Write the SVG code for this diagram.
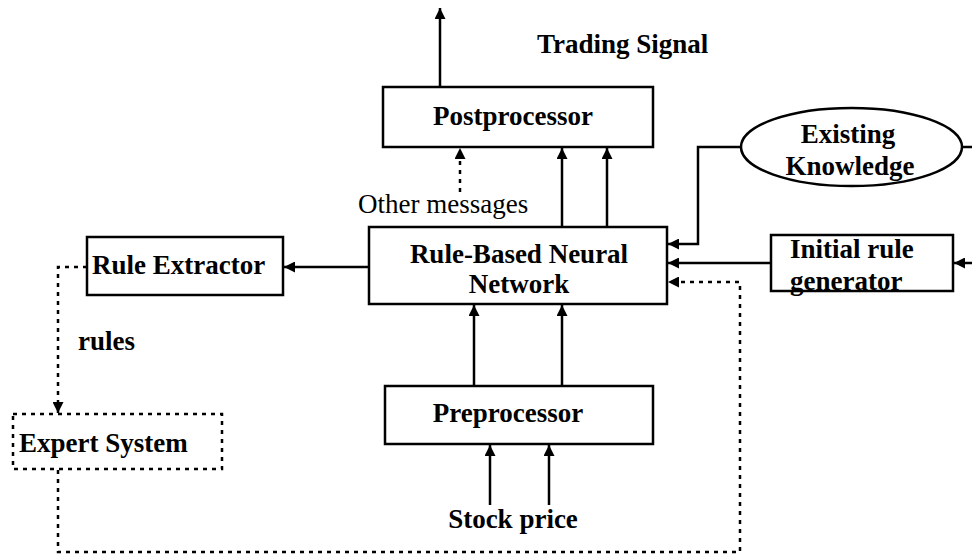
<svg xmlns="http://www.w3.org/2000/svg" width="972" height="556" viewBox="0 0 972 556">
<style>
text{font-family:"Liberation Serif","Times New Roman",serif;font-size:27px;fill:#000}
.b{font-weight:bold}
.box{fill:#fff;stroke:#000;stroke-width:2.5}
.dbox{fill:none;stroke:#000;stroke-width:2.5;stroke-dasharray:4 5}
.ln{fill:none;stroke:#000;stroke-width:2.5}
.dl{fill:none;stroke:#000;stroke-width:2.5;stroke-dasharray:4 5}
</style>
<defs>
<marker id="ah" markerUnits="userSpaceOnUse" markerWidth="11" markerHeight="11" refX="11" refY="5.5" orient="auto" viewBox="0 0 11 11">
<path d="M0,0 L11,5.5 L0,11 z" fill="#000"/>
</marker>
</defs>
<rect width="972" height="556" fill="#fff"/>
<g id="connectors">
<path class="ln" d="M440,87 V8" marker-end="url(#ah)"/>
<path class="dl" d="M460,192 V148" marker-end="url(#ah)"/>
<path class="ln" d="M562,227 V148" marker-end="url(#ah)"/>
<path class="ln" d="M607,227 V148" marker-end="url(#ah)"/>
<path class="ln" d="M474,386 V305" marker-end="url(#ah)"/>
<path class="ln" d="M562,386 V305" marker-end="url(#ah)"/>
<path class="ln" d="M490,505 V445" marker-end="url(#ah)"/>
<path class="ln" d="M549,505 V445" marker-end="url(#ah)"/>
<path class="ln" d="M369,267 H284" marker-end="url(#ah)"/>
<path class="ln" d="M741,147 H698 V244 H668" marker-end="url(#ah)"/>
<path class="ln" d="M962,147 H972"/>
<path class="ln" d="M771,263 H668" marker-end="url(#ah)"/>
<path class="ln" d="M972,263 H954" marker-end="url(#ah)"/>
<path class="dl" d="M87,267 H58 V413" marker-end="url(#ah)"/>
<path class="dl" d="M58,470 V552 H740 V282 H668" marker-end="url(#ah)"/>
</g>
<g id="postprocessor">
<rect class="box" x="383" y="87" width="270" height="60"/>
<text class="b" x="513" y="125" text-anchor="middle">Postprocessor</text>
</g>
<g id="trading-signal">
<text class="b" x="537" y="53">Trading Signal</text>
</g>
<g id="other-messages">
<text x="358" y="213">Other messages</text>
</g>
<g id="rbnn">
<rect class="box" x="369" y="227" width="298" height="77"/>
<text class="b" x="519" y="263" text-anchor="middle">Rule-Based Neural</text>
<text class="b" x="519" y="293" text-anchor="middle">Network</text>
</g>
<g id="existing-knowledge">
<ellipse class="box" cx="851.5" cy="147" rx="110.5" ry="39"/>
<text class="b" x="848" y="143" text-anchor="middle">Existing</text>
<text class="b" x="850" y="175" text-anchor="middle">Knowledge</text>
</g>
<g id="initial-rule-generator">
<rect class="box" x="771" y="235" width="182" height="56"/>
<text class="b" x="790" y="258">Initial rule</text>
<text class="b" x="790" y="290">generator</text>
</g>
<g id="rule-extractor">
<rect class="box" x="87" y="237" width="196" height="58"/>
<text class="b" x="92" y="274">Rule Extractor</text>
</g>
<g id="rules-label">
<text class="b" x="78" y="350">rules</text>
</g>
<g id="expert-system">
<rect class="dbox" x="13" y="414" width="209" height="55"/>
<text class="b" x="19" y="452">Expert System</text>
</g>
<g id="preprocessor">
<rect class="box" x="385" y="386" width="268" height="58"/>
<text class="b" x="508" y="422" text-anchor="middle">Preprocessor</text>
</g>
<g id="stock-price">
<text class="b" x="513" y="528" text-anchor="middle">Stock price</text>
</g>
</svg>
